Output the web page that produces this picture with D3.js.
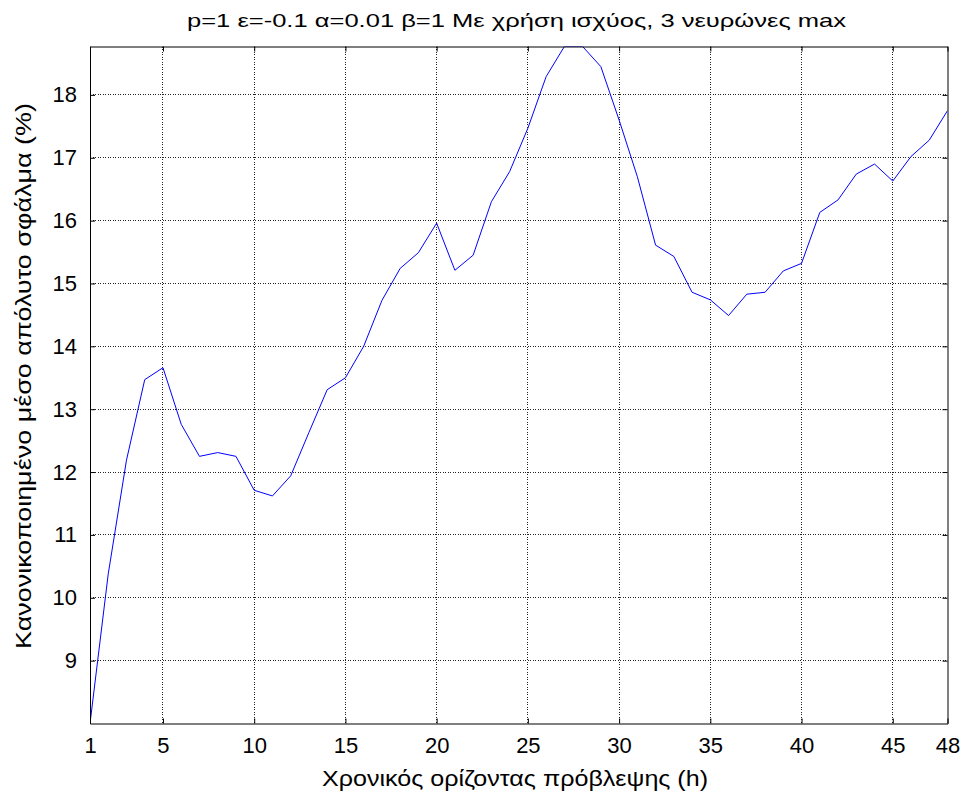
<!DOCTYPE html>
<html>
<head>
<meta charset="utf-8">
<script src="https://cdn.jsdelivr.net/npm/d3@7"></script>
<style>
  html, body { margin: 0; padding: 0; background: #fff; }
  svg { display: block; }
  text { font-family: "Liberation Sans", Arial, sans-serif; fill: #000; }
</style>
</head>
<body>
<div id="chart"></div>
<script>
// ---- data ----
const hours = d3.range(1, 49);
const errorValues = [
  8.00, 10.38, 12.19, 13.47, 13.66, 12.76, 12.25, 12.31, 12.25, 11.71,
  11.62, 11.94, 12.63, 13.31, 13.50, 14.00, 14.73, 15.24, 15.49, 15.96,
  15.21, 15.45, 16.30, 16.78, 17.47, 18.29, 18.77, 18.77, 18.45, 17.60,
  16.70, 15.61, 15.43, 14.86, 14.74, 14.49, 14.83, 14.86, 15.20, 15.32,
  16.13, 16.33, 16.74, 16.90, 16.63, 17.02, 17.28, 17.75
];
const xTicks = [1, 5, 10, 15, 20, 25, 30, 35, 40, 45, 48];
const yTicks = [9, 10, 11, 12, 13, 14, 15, 16, 17, 18];
const titleText = "p=1 ε=-0.1 α=0.01 β=1 Με χρήση ισχύος, 3 νευρώνες max";
const xLabelText = "Χρονικός ορίζοντας πρόβλεψης (h)";
const yLabelText = "Κανονικοποιημένο μέσο απόλυτο σφάλμα (%)";

// ---- layout ----
const W = 966, H = 798;
const margin = { left: 90, top: 46.5, right: 18.5, bottom: 74.5 };
const iw = W - margin.left - margin.right;
const ih = H - margin.top - margin.bottom;

const svg = d3.select("#chart").append("svg").attr("width", W).attr("height", H);
const g = svg.append("g").attr("transform", `translate(${margin.left},${margin.top})`);

const x = d3.scaleLinear().domain([1, 48]).range([0, iw]);
const y = d3.scaleLinear().domain(d3.extent(errorValues)).range([ih, 0]);

// grid
const grid = g.append("g").attr("class", "grid");
grid.selectAll("line.vx").data(xTicks.slice(1, -1)).join("line")
  .attr("x1", d => x(d)).attr("x2", d => x(d))
  .attr("y1", 0).attr("y2", ih)
  .attr("stroke", "#222").attr("stroke-width", 1).attr("stroke-dasharray", "1,1.5")
  .attr("shape-rendering", "crispEdges");
grid.selectAll("line.hy").data(yTicks).join("line")
  .attr("x1", 0).attr("x2", iw)
  .attr("y1", d => y(d)).attr("y2", d => y(d))
  .attr("stroke", "#222").attr("stroke-width", 1).attr("stroke-dasharray", "1,1.5")
  .attr("shape-rendering", "crispEdges");

// line
const line = d3.line().x((d, i) => x(hours[i])).y(d => y(d));
g.append("defs").append("clipPath").attr("id", "clip")
  .append("rect").attr("x", 0).attr("y", 0).attr("width", iw).attr("height", ih);
g.append("path").datum(errorValues)
  .attr("clip-path", "url(#clip)")
  .attr("fill", "none").attr("stroke", "#0000ff").attr("stroke-width", 1)
  .attr("d", line);

// axes (inward ticks, box)
const tickLen = 5;
const fs = 22;
const xAxisB = d3.axisBottom(x).tickValues(xTicks).tickSizeInner(-tickLen).tickSizeOuter(0).tickPadding(14);
const xAxisT = d3.axisTop(x).tickValues(xTicks).tickSizeInner(-tickLen).tickSizeOuter(0).tickFormat("");
const yAxisL = d3.axisLeft(y).tickValues(yTicks).tickSizeInner(-tickLen).tickSizeOuter(0).tickPadding(13);
const yAxisR = d3.axisRight(y).tickValues(yTicks).tickSizeInner(-tickLen).tickSizeOuter(0).tickFormat("");

function styleAxis(sel) {
  sel.select(".domain").attr("stroke", "#000").attr("stroke-width", 1);
  sel.selectAll(".tick line").attr("stroke", "#000").attr("stroke-width", 1);
  sel.selectAll(".tick text").attr("font-family", '"Liberation Sans", Arial, sans-serif')
    .attr("font-size", fs).attr("fill", "#000");
}
g.append("g").attr("transform", `translate(0,${ih})`).call(xAxisB).call(styleAxis);
g.append("g").call(xAxisT).call(styleAxis);
g.append("g").call(yAxisL).call(styleAxis);
g.append("g").attr("transform", `translate(${iw},0)`).call(yAxisR).call(styleAxis);

// titles
svg.append("text").attr("x", 516.5).attr("y", 27)
  .attr("text-anchor", "middle").attr("font-size", 19)
  .attr("textLength", 659).attr("lengthAdjust", "spacingAndGlyphs").text(titleText);
svg.append("text").attr("x", 515).attr("y", 786)
  .attr("text-anchor", "middle").attr("font-size", 22)
  .attr("textLength", 386).attr("lengthAdjust", "spacingAndGlyphs").text(xLabelText);
svg.append("text").attr("transform", `translate(31,${376}) rotate(-90)`)
  .attr("text-anchor", "middle").attr("font-size", 22)
  .attr("textLength", 546).attr("lengthAdjust", "spacingAndGlyphs").text(yLabelText);
</script>
</body>
</html>
